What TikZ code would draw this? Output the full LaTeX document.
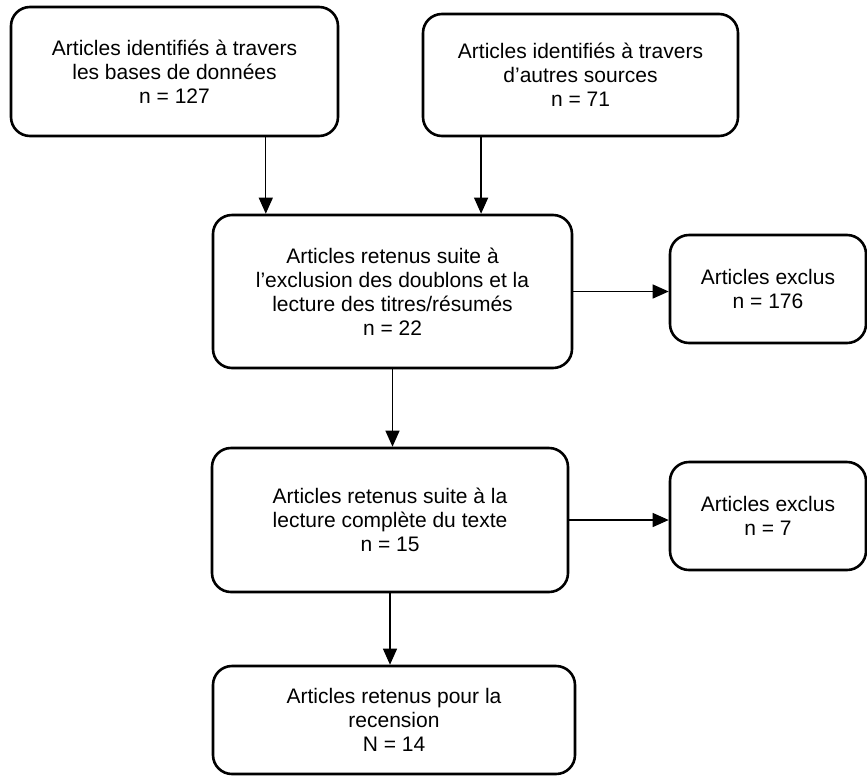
\documentclass[tikz,border=0pt]{standalone}
\usepackage{fontspec}
\setmainfont{Liberation Sans}
\usetikzlibrary{arrows.meta,calc}

\begin{document}
\begin{tikzpicture}[x=1pt, y=-1pt,
  box/.style={draw, line width=2.6pt, rounded corners=19pt, align=center, inner sep=0pt,
        font=\fontsize{21}{24}\selectfont},
  exbox/.style={box, minimum width=196pt, minimum height=108pt},
  arr/.style={line width=1.2pt, -{Triangle[width=14pt,length=16pt]}}]
  \useasboundingbox (0,0) rectangle (867,777);

  % identification
  \node[box, minimum width=327pt, minimum height=129pt] (db) at (174.5,71.5)
       {Articles identifiés à travers\\les bases de données\\n = 127};
  \node[box, minimum width=315pt, minimum height=122pt] (other) at (580.5,75)
       {Articles identifiés à travers\\d’autres sources\\n = 71};

  % screening
  \node[box, minimum width=359pt, minimum height=153pt] (screen) at (392.5,291.5)
       {Articles retenus suite à\\l’exclusion des doublons et la\\lecture des titres/résumés\\n = 22};
  \node[exbox] (excl1) at (768,289) {Articles exclus\\n = 176};

  % full text
  \node[box, minimum width=356pt, minimum height=144pt] (full) at (390,520)
       {Articles retenus suite à la\\lecture complète du texte\\n = 15};
  \node[exbox] (excl2) at (768,516) {Articles exclus\\n = 7};

  % included
  \node[box, minimum width=362pt, minimum height=108pt] (incl) at (394,720)
       {Articles retenus pour la\\recension\\N = 14};

  \draw[arr] ($(db.south west)!0.777!(db.south east)$) coordinate (a1) -- (a1 |- screen.north);
  \draw[arr] ($(other.south west)!0.187!(other.south east)$) coordinate (a2) -- (a2 |- screen.north);
  \draw[arr] (screen.east) -- (screen.east -| excl1.west);
  \draw[arr] (full.north -| screen.south) coordinate (a3) (screen.south) -- (a3);
  \draw[arr] (full.east) -- (full.east -| excl2.west);
  \draw[arr] (full.south) -- (full.south |- incl.north);
\end{tikzpicture}
\end{document}
